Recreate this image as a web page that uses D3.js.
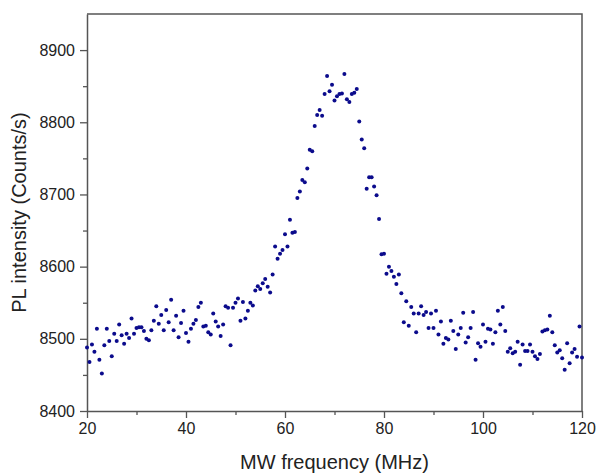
<!DOCTYPE html>
<html>
<head>
<meta charset="utf-8">
<script src="https://cdn.jsdelivr.net/npm/d3@7"></script>
<style>
  body { margin: 0; background: #fff; }
  svg { font-family: "Liberation Sans", Arial, sans-serif; }
</style>
</head>
<body>
<div id="chart"></div>
<script>
// MW sweep frequencies (MHz), 0.5 MHz steps
const freq = [
  20, 20.5, 21, 21.5, 22, 22.5, 23, 23.5, 24, 24.5, 25, 25.5, 26, 26.5, 27, 27.5, 28, 28.5, 29, 29.5,
  30, 30.5, 31, 31.5, 32, 32.5, 33, 33.5, 34, 34.5, 35, 35.5, 36, 36.5, 37, 37.5, 38, 38.5, 39, 39.5,
  40, 40.5, 41, 41.5, 42, 42.5, 43, 43.5, 44, 44.5, 45, 45.5, 46, 46.5, 47, 47.5, 48, 48.5, 49, 49.5,
  50, 50.5, 51, 51.5, 52, 52.5, 53, 53.5, 54, 54.5, 55, 55.5, 56, 56.5, 57, 57.5, 58, 58.5, 59, 59.5,
  60, 60.5, 61, 61.5, 62, 62.5, 63, 63.5, 64, 64.5, 65, 65.5, 66, 66.5, 67, 67.5, 68, 68.5, 69, 69.5,
  70, 70.5, 71, 71.5, 72, 72.5, 73, 73.5, 74, 74.5, 75, 75.5, 76, 76.5, 77, 77.5, 78, 78.5, 79, 79.5,
  80, 80.5, 81, 81.5, 82, 82.5, 83, 83.5, 84, 84.5, 85, 85.5, 86, 86.5, 87, 87.5, 88, 88.5, 89, 89.5,
  90, 90.5, 91, 91.5, 92, 92.5, 93, 93.5, 94, 94.5, 95, 95.5, 96, 96.5, 97, 97.5, 98, 98.5, 99, 99.5,
  100, 100.5, 101, 101.5, 102, 102.5, 103, 103.5, 104, 104.5, 105, 105.5, 106, 106.5, 107, 107.5, 108, 108.5, 109, 109.5,
  110, 110.5, 111, 111.5, 112, 112.5, 113, 113.5, 114, 114.5, 115, 115.5, 116, 116.5, 117, 117.5, 118, 118.5, 119, 119.5,
  120
];
// PL intensity (Counts/s)
const counts = [
  8488, 8468, 8492, 8482, 8514, 8471, 8452, 8491, 8514, 8497, 8476, 8507, 8497, 8520, 8505, 8493, 8507, 8501, 8528, 8507,
  8515, 8516, 8516, 8511, 8500, 8498, 8512, 8525, 8545, 8521, 8533, 8512, 8540, 8523, 8554, 8512, 8532, 8502, 8522, 8539,
  8508, 8496, 8514, 8521, 8526, 8544, 8550, 8517, 8518, 8509, 8506, 8535, 8524, 8517, 8504, 8520, 8545, 8543, 8491, 8543,
  8550, 8556, 8525, 8551, 8528, 8539, 8550, 8546, 8567, 8573, 8569, 8577, 8583, 8572, 8564, 8589, 8628, 8611, 8618, 8623,
  8645, 8628, 8665, 8647, 8648, 8695, 8704, 8720, 8717, 8736, 8762, 8760, 8795, 8810, 8817, 8809, 8839, 8864, 8843, 8852,
  8830, 8836, 8839, 8840, 8867, 8832, 8828, 8839, 8841, 8846, 8801, 8776, 8764, 8708, 8724, 8724, 8711, 8699, 8666, 8617,
  8618, 8590, 8600, 8594, 8586, 8576, 8589, 8563, 8523, 8552, 8518, 8544, 8535, 8509, 8535, 8545, 8533, 8537, 8515, 8535,
  8515, 8539, 8506, 8524, 8493, 8501, 8499, 8525, 8511, 8486, 8506, 8515, 8536, 8495, 8502, 8515, 8537, 8471, 8494, 8489,
  8520, 8496, 8514, 8513, 8493, 8509, 8539, 8520, 8544, 8511, 8482, 8487, 8480, 8482, 8496, 8464, 8492, 8483, 8483, 8492,
  8482, 8476, 8472, 8479, 8510, 8512, 8513, 8532, 8509, 8491, 8481, 8484, 8473, 8457, 8494, 8466, 8481, 8486, 8475, 8517,
  8474
];
const xTicks = [20, 40, 60, 80, 100, 120];
const yTicks = [8400, 8500, 8600, 8700, 8800, 8900];

const width = 597, height = 475;
const margin = {top: 14, right: 15, bottom: 64, left: 87};

const svg = d3.select("#chart").append("svg")
  .attr("width", width)
  .attr("height", height);

const x = d3.scaleLinear().domain([20, 120]).range([margin.left, width - margin.right]);
const y = d3.scaleLinear().domain([8400, 8950]).range([height - margin.bottom, margin.top]);

const axisColor = "#555";

// minor ticks
svg.append("g")
  .attr("transform", `translate(0,${height - margin.bottom})`)
  .call(d3.axisBottom(x).tickValues(d3.range(30, 120, 20)).tickSize(4).tickFormat(""))
  .call(g => g.select(".domain").remove())
  .selectAll("line").attr("stroke", axisColor).attr("stroke-width", 1.3);
svg.append("g")
  .attr("transform", `translate(${margin.left},0)`)
  .call(d3.axisLeft(y).tickValues([8450, 8550, 8650, 8750, 8850]).tickSize(4).tickFormat(""))
  .call(g => g.select(".domain").remove())
  .selectAll("line").attr("stroke", axisColor).attr("stroke-width", 1.3);

// major axes
const xAxis = svg.append("g")
  .attr("transform", `translate(0,${height - margin.bottom})`)
  .call(d3.axisBottom(x).tickValues(xTicks).tickFormat(d3.format("d"))
    .tickSize(7).tickPadding(5).tickSizeOuter(0));
const yAxis = svg.append("g")
  .attr("transform", `translate(${margin.left},0)`)
  .call(d3.axisLeft(y).tickValues(yTicks).tickFormat(d3.format("d"))
    .tickSize(7).tickPadding(5).tickSizeOuter(0));

[xAxis, yAxis].forEach(g => {
  g.selectAll("line").attr("stroke", axisColor).attr("stroke-width", 1.3);
  g.select(".domain").attr("stroke", axisColor).attr("stroke-width", 1.5);
  g.selectAll("text").attr("fill", "#222").style("font-size", "16px");
});

// frame top/right
svg.append("path")
  .attr("d", `M${x(20)},${y(8950)}H${x(120)}V${y(8400)}`)
  .attr("fill", "none")
  .attr("stroke", axisColor)
  .attr("stroke-width", 1.5);

// points
svg.append("g")
  .selectAll("circle")
  .data(freq)
  .enter()
  .append("circle")
  .attr("cx", d => x(d))
  .attr("cy", (d, i) => y(counts[i]))
  .attr("r", 2)
  .attr("fill", "#0b0b8c");

// axis titles
svg.append("text")
  .attr("x", (x(20) + x(120)) / 2)
  .attr("y", 469)
  .attr("text-anchor", "middle")
  .attr("fill", "#222")
  .style("font-size", "20px")
  .text("MW frequency (MHz)");

svg.append("text")
  .attr("transform", `translate(26,${(y(8400) + y(8950)) / 2}) rotate(-90)`)
  .attr("text-anchor", "middle")
  .attr("fill", "#222")
  .style("font-size", "20px")
  .text("PL intensity (Counts/s)");
</script>
</body>
</html>
